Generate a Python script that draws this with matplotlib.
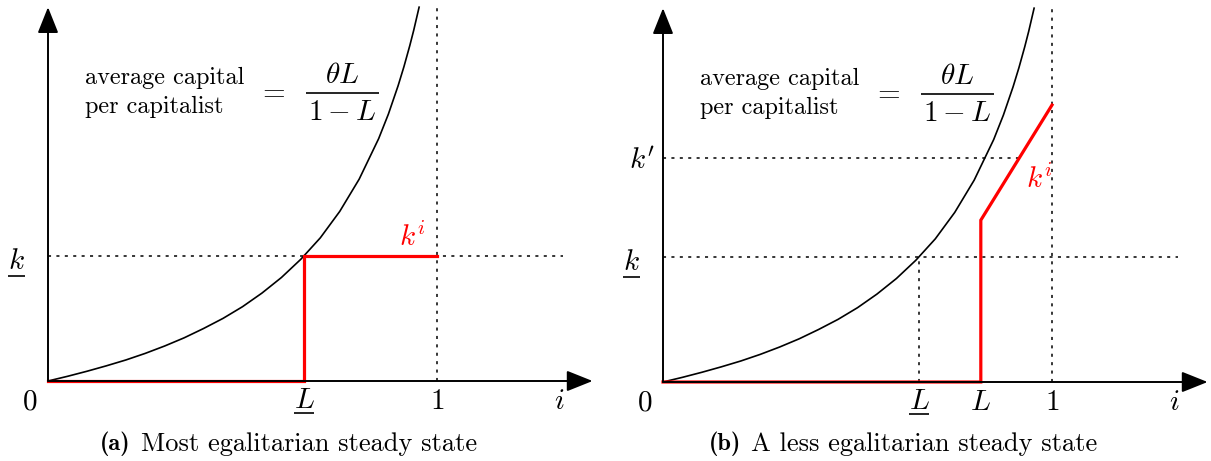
import matplotlib
matplotlib.use("Agg")
import matplotlib.pyplot as plt
import numpy as np

plt.rcParams['mathtext.fontset'] = 'cm'
plt.rcParams['font.family'] = 'cmr10'
plt.rcParams['axes.formatter.use_mathtext'] = True
plt.rcParams['axes.unicode_minus'] = False

# curve "average capital per capitalist" (i, value)
curve_i = [0, 0.05, 0.1, 0.15, 0.2, 0.25, 0.3, 0.35, 0.4, 0.45, 0.5, 0.55, 0.6,
           0.65, 0.7, 0.75, 0.8, 0.85, 0.875, 0.9, 0.915, 0.93, 0.94, 0.954]
curve_k = [0, 0.012, 0.025, 0.039, 0.054, 0.071, 0.090, 0.111, 0.135, 0.161,
           0.191, 0.226, 0.266, 0.313, 0.368, 0.436, 0.519, 0.623, 0.686, 0.759,
           0.808, 0.862, 0.901, 0.961]

L_low = 0.658      # underline L
k_low = 0.322      # underline k
L_high = 0.817     # L in panel b
k_jump = 0.416     # red line after jump, panel b
k_top = 0.712      # red line at i = 1, panel b
k_prime = 0.576    # k'

# red k^i profiles
red_a_i = [0, L_low, L_low, 1]
red_a_k = [0, 0, k_low, k_low]
red_b_i = [0, L_high, L_high, 1]
red_b_k = [0, 0, k_jump, k_top]

captions = [('(a)', 'Most egalitarian steady state'),
            ('(b)', 'A less egalitarian steady state')]

top = 0.961
x_end = 1.40
dot_end = 1.325

U = 389.0          # pixels per unit
W, H = 1211, 461
fig = plt.figure(figsize=(W / 100, H / 100), dpi=100)

xl = (-0.12, 1.45)
yl = (-0.2, 0.98)


def make_ax(x0, y0):
    left = x0 + xl[0] * U
    bottom = (H - y0) + yl[0] * U
    ax = fig.add_axes([left / W, bottom / H, (xl[1] - xl[0]) * U / W,
                       (yl[1] - yl[0]) * U / H])
    ax.set_xlim(*xl)
    ax.set_ylim(*yl)
    ax.axis('off')
    return ax


dot = dict(color='black', lw=1.1, linestyle=(0, (2, 3.5)), clip_on=False)
arrow = dict(arrowstyle='-|>,head_length=0.8,head_width=0.32', lw=1.4,
             color='black', shrinkA=0, shrinkB=0, mutation_scale=20)
fs = 21


def under_label(ax, x, y, s, dy, hw):
    # label with a bar under it (mathtext has no \underline)
    ax.text(x, y, s, fontsize=fs, ha='center', va='center')
    ax.plot([x - hw, x + hw], [y + dy, y + dy], color='black', lw=1.2,
            clip_on=False, solid_capstyle='butt')


def draw_panel(ax, red_i, red_k, b=False):
    # axes with arrows
    ax.annotate('', xy=(x_end, 0), xytext=(0, 0), arrowprops=arrow)
    ax.annotate('', xy=(0, top), xytext=(0, 0), arrowprops=arrow)
    # dotted guides
    ax.plot([0, dot_end], [k_low, k_low], **dot)
    ax.plot([1, 1], [0, top], **dot)
    if b:
        i_cross = L_high + (k_prime - k_jump) / (k_top - k_jump) * (1 - L_high)
        ax.plot([0, i_cross], [k_prime, k_prime], **dot)
        ax.plot([L_low, L_low], [0, k_low], **dot)
    # curve and red line
    ax.plot(curve_i, curve_k, color='black', lw=1.2, clip_on=False)
    ax.plot(red_i, red_k, color='#ff0000', lw=2.3, clip_on=False,
            solid_joinstyle='miter')
    # labels
    ax.text(-0.048, -0.054, '$0$', fontsize=fs, ha='center', va='center')
    ax.text(1, -0.054, '$1$', fontsize=fs, ha='center', va='center')
    ax.text(1.314, -0.054, '$i$', fontsize=fs, ha='center', va='center')
    under_label(ax, L_low, -0.052, '$L$', -0.029, 0.025)
    under_label(ax, -0.082, k_low - 0.015, '$k$', -0.036, 0.022)
    ax.text(0.095, 0.742, 'average capital\nper capitalist', fontsize=17.5,
            ha='left', va='center', linespacing=1.38)
    ax.text(0.573, 0.742, '$=$', fontsize=fs, ha='center', va='center')
    # fraction theta L / (1 - L)
    ax.text(0.757, 0.785, r'$\theta L$', fontsize=fs, ha='center', va='center')
    ax.plot([0.757 - 0.094, 0.757 + 0.094], [0.740, 0.740], color='black',
            lw=1.2, clip_on=False, solid_capstyle='butt')
    ax.text(0.757, 0.690, r'$1-L$', fontsize=fs, ha='center', va='center')
    if b:
        ax.text(L_high, -0.054, '$L$', fontsize=fs, ha='center', va='center')
        ax.text(-0.054, k_prime - 0.008, "$k'$", fontsize=fs, ha='center', va='center')
        ax.text(0.967, 0.52, '$k^i$', fontsize=fs, ha='center', va='center',
                color='#ff0000')
    else:
        ax.text(0.938, 0.37, '$k^i$', fontsize=fs, ha='center', va='center',
                color='#ff0000')


ax1 = make_ax(48, 381)
draw_panel(ax1, red_a_i, red_a_k)
ax2 = make_ax(663, 382)
draw_panel(ax2, red_b_i, red_b_k, b=True)

# captions: bold tag then plain text
for (tag, txt), (x_tag, x_txt) in zip(captions, [(131, 141), (741, 751)]):
    fig.text(x_tag / W, 1 - 444 / H, tag, fontsize=17.5, family='cmb10',
             ha='right', va='center')
    fig.text(x_txt / W, 1 - 444 / H, txt, fontsize=19, ha='left', va='center')

fig.savefig('out.png', dpi=100)
